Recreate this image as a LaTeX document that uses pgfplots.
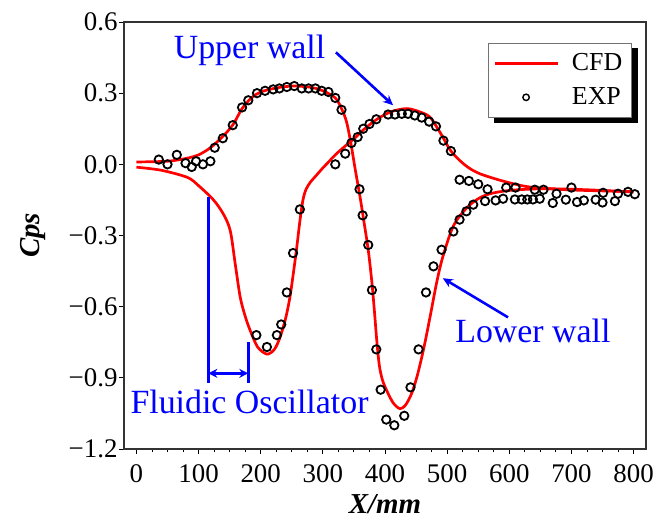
\documentclass[border=0pt]{standalone}
\usepackage{fontspec}
\setmainfont{Liberation Serif}
\usepackage{pgfplots}
\usepackage{pgfplotstable}
\pgfplotsset{compat=1.18}
\usetikzlibrary{arrows.meta,backgrounds}

% CFD pressure coefficient, lower wall
\pgfplotstableread{
x y
0 0.010
50 0.013
80 0.025
100 0.040
119 0.070
140 0.120
156 0.170
170 0.235
185 0.280
200 0.305
225 0.322
252 0.330
280 0.325
300 0.310
320 0.280
330 0.235
338 0.180
345 0.090
352 -0.020
360 -0.140
366 -0.240
373 -0.360
379 -0.500
383 -0.620
387 -0.750
391 -0.850
396 -0.910
403 -0.955
413 -1.005
424 -1.030
433 -1.015
443 -0.965
452 -0.890
462 -0.780
472 -0.650
483 -0.500
493 -0.390
510 -0.260
531 -0.185
550 -0.145
569 -0.124
600 -0.110
650 -0.103
700 -0.105
750 -0.110
800 -0.117
}\cfdlower

% CFD pressure coefficient, upper wall
\pgfplotstableread{
x y
0 -0.012
40 -0.025
82 -0.055
100 -0.090
124 -0.150
140 -0.210
151 -0.280
159 -0.420
167 -0.560
175 -0.640
183 -0.700
195 -0.770
210 -0.800
222 -0.780
231 -0.730
240 -0.650
247 -0.560
253 -0.450
258 -0.350
263 -0.240
268 -0.150
273 -0.105
280 -0.075
290 -0.045
300 -0.015
310 0.012
320 0.040
335 0.075
349 0.105
365 0.145
387 0.190
410 0.222
435 0.235
455 0.222
472 0.200
485 0.150
493 0.115
505 0.060
520 0.017
535 -0.015
553 -0.040
585 -0.067
620 -0.090
649 -0.100
700 -0.108
750 -0.112
799 -0.115
}\cfdupper

% Measured pressure coefficient (both walls)
\pgfplotstableread{
x y
36 0.020
50 0.000
65 0.040
79 0.005
89 -0.011
96 0.013
107 0.000
119 0.013
126 0.070
139 0.110
155 0.165
170 0.240
180 0.270
194 0.300
207 0.310
220 0.316
230 0.320
242 0.326
254 0.330
266 0.320
277 0.320
288 0.320
298 0.310
309 0.305
320 0.280
330 0.230
359 -0.105
364 -0.215
373 -0.340
379 -0.530
386 -0.780
393 -0.950
402 -1.076
415 -1.100
431 -1.060
441 -0.940
454 -0.780
466 -0.540
478 -0.430
491 -0.360
510 -0.283
520 -0.233
531 -0.198
542 -0.170
561 -0.155
578 -0.152
590 -0.145
609 -0.148
620 -0.148
629 -0.148
638 -0.148
649 -0.145
670 -0.163
691 -0.149
709 -0.159
720 -0.152
739 -0.149
750 -0.161
770 -0.155
193 -0.720
210 -0.770
226 -0.720
233 -0.675
242 -0.540
252 -0.374
263 -0.190
320 0.000
336 0.045
346 0.090
356 0.115
365 0.150
375 0.170
386 0.190
405 0.210
416 0.210
427 0.213
437 0.213
448 0.206
459 0.197
471 0.180
482 0.160
494 0.100
506 0.056
520 -0.065
535 -0.070
550 -0.084
565 -0.105
595 -0.098
610 -0.098
641 -0.107
655 -0.107
676 -0.124
700 -0.098
751 -0.120
775 -0.124
791 -0.116
802 -0.126
}\expdata

\begin{document}
\begin{tikzpicture}
\begin{axis}[
  scale only axis, width=522bp, height=427bp,
  xmin=-20, xmax=820, ymin=-1.2, ymax=0.6,
  xtick={0,100,...,800}, minor x tick num=3,
  ytick={-1.2,-0.9,-0.6,-0.3,0,0.3,0.6},
  yticklabels={−1.2,−0.9,−0.6,−0.3,0.0,0.3,0.6},
  tick align=outside, xtick pos=bottom, ytick pos=left,
  major tick length=5bp, minor tick length=3bp,
  tick style={black, line width=0.9bp},
  axis line style={black!80, line width=1.2bp},
  /pgf/number format/assume math mode=true,
  ticklabel style={font=\fontsize{27}{30}\selectfont},
  xticklabel style={yshift=-7bp},
  yticklabel style={xshift=2bp},
  xlabel={\textbf{\textit{X/mm}}}, ylabel={\textbf{\textit{Cps}}},
  label style={font=\fontsize{29}{32}\selectfont},
  xlabel style={yshift=-5bp},
  ylabel style={yshift=16bp},
  legend style={name=leg, at={(0.697,0.951)}, anchor=north west, draw=black!55,
    line width=0.8bp, fill=white, font=\fontsize{26}{28}\selectfont,
    inner xsep=5bp, inner ysep=7bp, row sep=8bp, column sep=9bp,
    nodes={inner xsep=4bp, inner ysep=0bp, text height=20bp, text depth=6bp}},
  legend cell align=left,
]
\addplot[red, line width=2.7bp, smooth, no markers,
  legend image code/.code={\draw[red, line width=2.7bp] (0bp,0bp) -- (63bp,0bp);}]
  table {\cfdlower};
\addlegendentry{CFD}
\addplot[red, line width=2.7bp, smooth, no markers, forget plot] table {\cfdupper};
\addplot[only marks, mark=o, mark size=4.2bp, black, line width=1.8bp,
  legend image code/.code={\draw[black, line width=1.4bp] (31.5bp,0bp) circle (3.2bp);}]
  table {\expdata};
\addlegendentry{EXP}

% annotations
\draw[blue, line width=2.6bp, -{Stealth[length=10bp,width=9bp]}] (axis cs:321,0.472) -- (axis cs:413,0.249);
\node[blue, anchor=base, font=\fontsize{34}{36}\selectfont] at (axis cs:182,0.447) {Upper wall};
\draw[blue, line width=2.6bp, -{Stealth[length=10bp,width=9bp]}] (axis cs:598,-0.645) -- (axis cs:493,-0.48);
\node[blue, anchor=base, font=\fontsize{34}{36}\selectfont] at (axis cs:638,-0.749) {Lower wall};
\draw[blue, line width=2.6bp] (axis cs:115.7,-0.139) -- (axis cs:115.7,-0.923);
\draw[blue, line width=2.6bp] (axis cs:180,-0.75) -- (axis cs:180,-0.923);
\draw[blue, line width=2.6bp, {Stealth[length=9bp,width=9bp]}-{Stealth[length=9bp,width=9bp]}] (axis cs:115.7,-0.881) -- (axis cs:180,-0.881);
\node[blue, anchor=base, font=\fontsize{34}{36}\selectfont] at (axis cs:182,-1.049) {Fluidic Oscillator};
\end{axis}
% legend shadow
\begin{pgfonlayer}{background}
\fill[black] ([xshift=6bp,yshift=-5bp]leg.south west) rectangle ([xshift=6bp,yshift=-5bp]leg.north east);
\end{pgfonlayer}
\pgfresetboundingbox
\path ([xshift=-124bp,yshift=-75bp]current axis.south west) rectangle ([xshift=10bp,yshift=22bp]current axis.north east);
\end{tikzpicture}
\end{document}
